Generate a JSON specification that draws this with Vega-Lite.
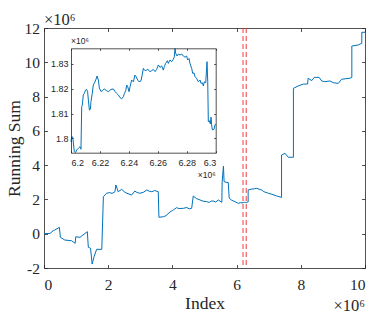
{
  "$schema": "https://vega.github.io/schema/vega-lite/v6.json",
  "width": 321,
  "height": 240,
  "autosize": {"type": "none"},
  "padding": {"left": 44, "top": 28, "right": 16, "bottom": 61},
  "background": "white",
  "config": {
    "view": {"stroke": null},
    "axis": {"grid": false, "domainColor": "#262626", "tickColor": "#262626", "labelColor": "#262626", "titleColor": "#262626", "domainWidth": 0.8, "tickWidth": 0.8, "titleFontWeight": "normal"}
  },
  "datasets": {
    "walk": [
      {"x":0,"y":0},{"x":0.19,"y":0.02},{"x":0.29,"y":0.18},{"x":0.34,"y":0.22},{"x":0.48,"y":0.37},{"x":0.51,"y":-0.21},{"x":0.65,"y":-0.37},{"x":0.86,"y":-0.41},{"x":0.97,"y":-0.56},{"x":0.99,"y":-0.18},{"x":1.12,"y":-0.21},{"x":1.35,"y":0.12},{"x":1.38,"y":-0.79},{"x":1.45,"y":-0.85},{"x":1.5,"y":-1.77},{"x":1.56,"y":-1.34},{"x":1.64,"y":-0.91},{"x":1.8,"y":-0.91},{"x":1.85,"y":2.16},{"x":1.95,"y":2.36},{"x":2.05,"y":2.4},{"x":2.12,"y":2.35},{"x":2.21,"y":2.45},{"x":2.24,"y":2.84},{"x":2.31,"y":2.45},{"x":2.42,"y":2.59},{"x":2.5,"y":2.45},{"x":2.58,"y":2.36},{"x":2.73,"y":2.26},{"x":2.83,"y":2.49},{"x":2.9,"y":2.4},{"x":2.99,"y":2.36},{"x":3.1,"y":2.42},{"x":3.2,"y":2.55},{"x":3.28,"y":2.48},{"x":3.36,"y":2.45},{"x":3.45,"y":2.52},{"x":3.56,"y":2.45},{"x":3.58,"y":0.96},{"x":3.72,"y":0.99},{"x":3.8,"y":1.05},{"x":3.93,"y":1.28},{"x":4.0,"y":1.35},{"x":4.13,"y":1.52},{"x":4.2,"y":1.47},{"x":4.34,"y":1.48},{"x":4.45,"y":1.53},{"x":4.52,"y":1.45},{"x":4.6,"y":1.48},{"x":4.65,"y":2.2},{"x":4.75,"y":2.05},{"x":4.86,"y":1.97},{"x":4.95,"y":1.9},{"x":5.07,"y":1.87},{"x":5.15,"y":1.82},{"x":5.2,"y":1.9},{"x":5.27,"y":1.91},{"x":5.35,"y":1.85},{"x":5.43,"y":1.97},{"x":5.54,"y":1.83},{"x":5.55,"y":3.03},{"x":5.59,"y":3.95},{"x":5.61,"y":3.03},{"x":5.74,"y":2.98},{"x":5.77,"y":2.07},{"x":5.85,"y":1.95},{"x":5.95,"y":1.87},{"x":6.05,"y":1.77},{"x":6.12,"y":1.81},
      {"x":6.2,"y":1.7985},{"x":6.2005,"y":1.8007},{"x":6.2012,"y":1.8005},{"x":6.2023,"y":1.7946},{"x":6.2032,"y":1.7943},{"x":6.2039,"y":1.7953},{"x":6.2051,"y":1.796},{"x":6.2062,"y":1.7966},{"x":6.2069,"y":1.7956},{"x":6.2074,"y":1.8128},{"x":6.2078,"y":1.8134},{"x":6.2085,"y":1.8175},{"x":6.2092,"y":1.8181},{"x":6.2101,"y":1.8195},{"x":6.2108,"y":1.8197},{"x":6.2115,"y":1.8188},{"x":6.212,"y":1.8154},{"x":6.2127,"y":1.8114},{"x":6.2134,"y":1.8117},{"x":6.2138,"y":1.8148},{"x":6.2147,"y":1.8181},{"x":6.2154,"y":1.8215},{"x":6.2161,"y":1.8222},{"x":6.2171,"y":1.8235},{"x":6.218,"y":1.8251},{"x":6.2189,"y":1.8235},{"x":6.2196,"y":1.8203},{"x":6.2207,"y":1.8189},{"x":6.2217,"y":1.8192},{"x":6.223,"y":1.8199},{"x":6.2247,"y":1.8192},{"x":6.2258,"y":1.8188},{"x":6.2276,"y":1.8197},{"x":6.2293,"y":1.8199},{"x":6.2304,"y":1.8189},{"x":6.2316,"y":1.8181},{"x":6.2327,"y":1.8175},{"x":6.2339,"y":1.8164},{"x":6.235,"y":1.8159},{"x":6.2362,"y":1.8168},{"x":6.2369,"y":1.8181},{"x":6.2378,"y":1.8192},{"x":6.2385,"y":1.8215},{"x":6.2392,"y":1.8208},{"x":6.2401,"y":1.8188},{"x":6.2408,"y":1.8208},{"x":6.2419,"y":1.8235},{"x":6.2431,"y":1.8228},{"x":6.2442,"y":1.8255},{"x":6.2449,"y":1.8249},{"x":6.2461,"y":1.8235},{"x":6.247,"y":1.8228},{"x":6.2484,"y":1.8232},{"x":6.2493,"y":1.8259},{"x":6.25,"y":1.8282},{"x":6.2507,"y":1.8275},{"x":6.2516,"y":1.8273},{"x":6.253,"y":1.8278},{"x":6.2546,"y":1.8269},{"x":6.2558,"y":1.8273},{"x":6.2569,"y":1.8278},{"x":6.2581,"y":1.8269},{"x":6.2592,"y":1.8278},{"x":6.2604,"y":1.8296},{"x":6.2615,"y":1.8286},{"x":6.2627,"y":1.8292},{"x":6.2638,"y":1.8275},{"x":6.2645,"y":1.8289},{"x":6.2654,"y":1.8302},{"x":6.2666,"y":1.8313},{"x":6.2673,"y":1.8302},{"x":6.2684,"y":1.8316},{"x":6.2696,"y":1.8309},{"x":6.2707,"y":1.8318},{"x":6.2714,"y":1.8329},{"x":6.2719,"y":1.8362},{"x":6.2723,"y":1.8343},{"x":6.2733,"y":1.8332},{"x":6.2742,"y":1.834},{"x":6.2753,"y":1.8336},{"x":6.2765,"y":1.834},{"x":6.2776,"y":1.8332},{"x":6.2788,"y":1.8327},{"x":6.2799,"y":1.8332},{"x":6.2806,"y":1.8316},{"x":6.2816,"y":1.8322},{"x":6.2822,"y":1.8302},{"x":6.2834,"y":1.8282},{"x":6.2841,"y":1.8262},{"x":6.285,"y":1.8264},{"x":6.2857,"y":1.8249},{"x":6.2868,"y":1.8242},{"x":6.288,"y":1.8228},{"x":6.2892,"y":1.8235},{"x":6.2898,"y":1.8222},{"x":6.2908,"y":1.8224},{"x":6.2915,"y":1.8211},{"x":6.2921,"y":1.8228},{"x":6.2931,"y":1.8224},{"x":6.294,"y":1.8309},{"x":6.2945,"y":1.8228},{"x":6.2949,"y":1.8067},{"x":6.2956,"y":1.8071},{"x":6.2963,"y":1.8058},{"x":6.2968,"y":1.8085},{"x":6.2972,"y":1.8054},{"x":6.2977,"y":1.8034},{"x":6.2988,"y":1.8036},{"x":6.2995,"y":1.8054},{"x":6.3,"y":1.8058},
      {"x":6.33,"y":1.84},{"x":6.36,"y":1.85},{"x":6.36,"y":2.55},{"x":6.45,"y":2.6},{"x":6.55,"y":2.62},{"x":6.63,"y":2.65},{"x":6.7,"y":2.6},{"x":6.78,"y":2.55},{"x":6.85,"y":2.45},{"x":6.99,"y":2.36},{"x":7.1,"y":2.3},{"x":7.25,"y":2.2},{"x":7.4,"y":2.12},{"x":7.4,"y":4.59},{"x":7.51,"y":4.69},{"x":7.61,"y":4.46},{"x":7.77,"y":4.46},{"x":7.77,"y":8.48},{"x":7.92,"y":8.62},{"x":8.08,"y":8.73},{"x":8.21,"y":8.73},{"x":8.23,"y":9.07},{"x":8.34,"y":8.93},{"x":8.42,"y":9.12},{"x":8.57,"y":9.12},{"x":8.65,"y":8.91},{"x":8.75,"y":8.87},{"x":8.91,"y":8.91},{"x":9.01,"y":8.81},{"x":9.17,"y":8.77},{"x":9.27,"y":9.01},{"x":9.53,"y":9.07},{"x":9.59,"y":9.12},{"x":9.59,"y":10.95},{"x":9.79,"y":11.01},{"x":9.9,"y":11.11},{"x":9.9,"y":11.75},{"x":10,"y":11.75}
    ],
    "zoomBounds": [{"x": 6.2}, {"x": 6.3}],
    "mainTop": [{"x": 0, "y": 12, "t": "×10⁶"}],
    "mainBottom": [{"x": 10, "y": -2, "t": "×10⁶"}],
    "insetBox": [{"x": 6.2, "x2": 6.3, "y": 1.7942, "y2": 1.8363}],
    "insetTop": [{"x": 6.2, "y": 1.8363, "t": "×10⁶"}],
    "insetBottom": [{"x": 6.3, "y": 1.7942, "t": "×10⁶"}]
  },
  "layer": [
    {
      "layer": [
        {
          "data": {"name": "walk"},
          "mark": {"type": "line", "color": "#0072BD", "strokeWidth": 1},
          "encoding": {
            "x": {"field": "x", "type": "quantitative", "scale": {"domain": [0, 10], "nice": false, "zero": false},
              "axis": {"orient": "bottom", "values": [0, 2, 4, 6, 8, 10], "format": "d", "tickSize": -3.5, "labelPadding": 12.5, "labelFont": "Liberation Serif", "labelFontSize": 15.5, "title": "Index", "titleFont": "Liberation Serif", "titleFontSize": 17.5, "titlePadding": 2}},
            "y": {"field": "y", "type": "quantitative", "scale": {"domain": [-2, 12], "nice": false, "zero": false},
              "axis": {"orient": "left", "values": [-2, 0, 2, 4, 6, 8, 10, 12], "labelExpr": "'' + datum.value", "tickSize": -3.5, "labelPadding": 8, "labelFont": "Liberation Serif", "labelFontSize": 15.5, "title": "Running Sum", "titleFont": "Liberation Serif", "titleFontSize": 17.5, "titlePadding": 1}},
            "order": {"value": null}
          }
        },
        {
          "data": {"name": "zoomBounds"},
          "mark": {"type": "rule", "color": "#f03c3c", "strokeWidth": 1, "strokeDash": [5, 3]},
          "encoding": {
            "x": {"field": "x", "type": "quantitative", "axis": null}
          }
        },
        {
          "data": {"name": "mainTop"},
          "mark": {"type": "text", "align": "left", "baseline": "alphabetic", "dy": -3, "font": "Liberation Serif", "fontSize": 16.5, "color": "#262626"},
          "encoding": {
            "x": {"field": "x", "type": "quantitative", "axis": {"orient": "top", "values": [0, 2, 4, 6, 8, 10], "labels": false, "tickSize": -3.5, "title": null}},
            "y": {"field": "y", "type": "quantitative", "axis": {"orient": "right", "values": [-2, 0, 2, 4, 6, 8, 10, 12], "labels": false, "tickSize": -3.5, "title": null}},
            "text": {"field": "t"}
          }
        },
        {
          "data": {"name": "mainBottom"},
          "mark": {"type": "text", "align": "right", "baseline": "alphabetic", "dy": 43, "font": "Liberation Serif", "fontSize": 16.5, "color": "#262626"},
          "encoding": {
            "x": {"field": "x", "type": "quantitative", "axis": null},
            "y": {"field": "y", "type": "quantitative", "axis": null},
            "text": {"field": "t"}
          }
        }
      ],
      "resolve": {"axis": {"x": "independent", "y": "independent"}}
    },
    {
      "layer": [
        {
          "data": {"name": "insetBox"},
          "mark": {"type": "rect", "color": "white"},
          "encoding": {
            "x": {"field": "x", "type": "quantitative", "scale": {"domain": [6.2, 6.3], "range": [27, 171.7], "nice": false, "zero": false}, "axis": null},
            "x2": {"field": "x2"},
            "y": {"field": "y", "type": "quantitative", "scale": {"domain": [1.7942, 1.8363], "range": [124.7, 20.3], "nice": false, "zero": false}, "axis": null},
            "y2": {"field": "y2"}
          }
        },
        {
          "data": {"name": "walk"},
          "transform": [{"filter": "datum.x >= 6.2 && datum.x <= 6.3"}],
          "mark": {"type": "line", "color": "#0072BD", "strokeWidth": 1},
          "encoding": {
            "x": {"field": "x", "type": "quantitative",
              "axis": {"orient": "bottom", "offset": -115.3, "zindex": 1, "values": [6.2, 6.22, 6.24, 6.26, 6.28, 6.3], "format": ".2~f", "tickSize": -2, "labelPadding": 8, "labelFont": "Liberation Sans", "labelFontSize": 9, "title": null}},
            "y": {"field": "y", "type": "quantitative",
              "axis": {"orient": "left", "offset": -27, "zindex": 1, "values": [1.8, 1.81, 1.82, 1.83], "format": ".2~f", "tickSize": -2, "labelPadding": 5, "labelFont": "Liberation Sans", "labelFontSize": 9, "title": null}},
            "order": {"value": null}
          }
        },
        {
          "data": {"name": "insetTop"},
          "mark": {"type": "text", "align": "left", "baseline": "alphabetic", "dy": -4, "font": "Liberation Sans", "fontSize": 8.5, "color": "#262626"},
          "encoding": {
            "x": {"field": "x", "type": "quantitative", "axis": {"orient": "top", "offset": -20.3, "zindex": 1, "values": [6.2, 6.22, 6.24, 6.26, 6.28, 6.3], "labels": false, "tickSize": -2, "title": null}},
            "y": {"field": "y", "type": "quantitative", "axis": {"orient": "right", "offset": -149.3, "zindex": 1, "values": [1.8, 1.81, 1.82, 1.83], "labels": false, "tickSize": -2, "title": null}},
            "text": {"field": "t"}
          }
        },
        {
          "data": {"name": "insetBottom"},
          "mark": {"type": "text", "align": "right", "baseline": "alphabetic", "dy": 25, "font": "Liberation Sans", "fontSize": 8.5, "color": "#262626"},
          "encoding": {
            "x": {"field": "x", "type": "quantitative", "axis": null},
            "y": {"field": "y", "type": "quantitative", "axis": null},
            "text": {"field": "t"}
          }
        }
      ],
      "resolve": {"axis": {"x": "independent", "y": "independent"}}
    }
  ],
  "resolve": {"scale": {"x": "independent", "y": "independent"}}
}
